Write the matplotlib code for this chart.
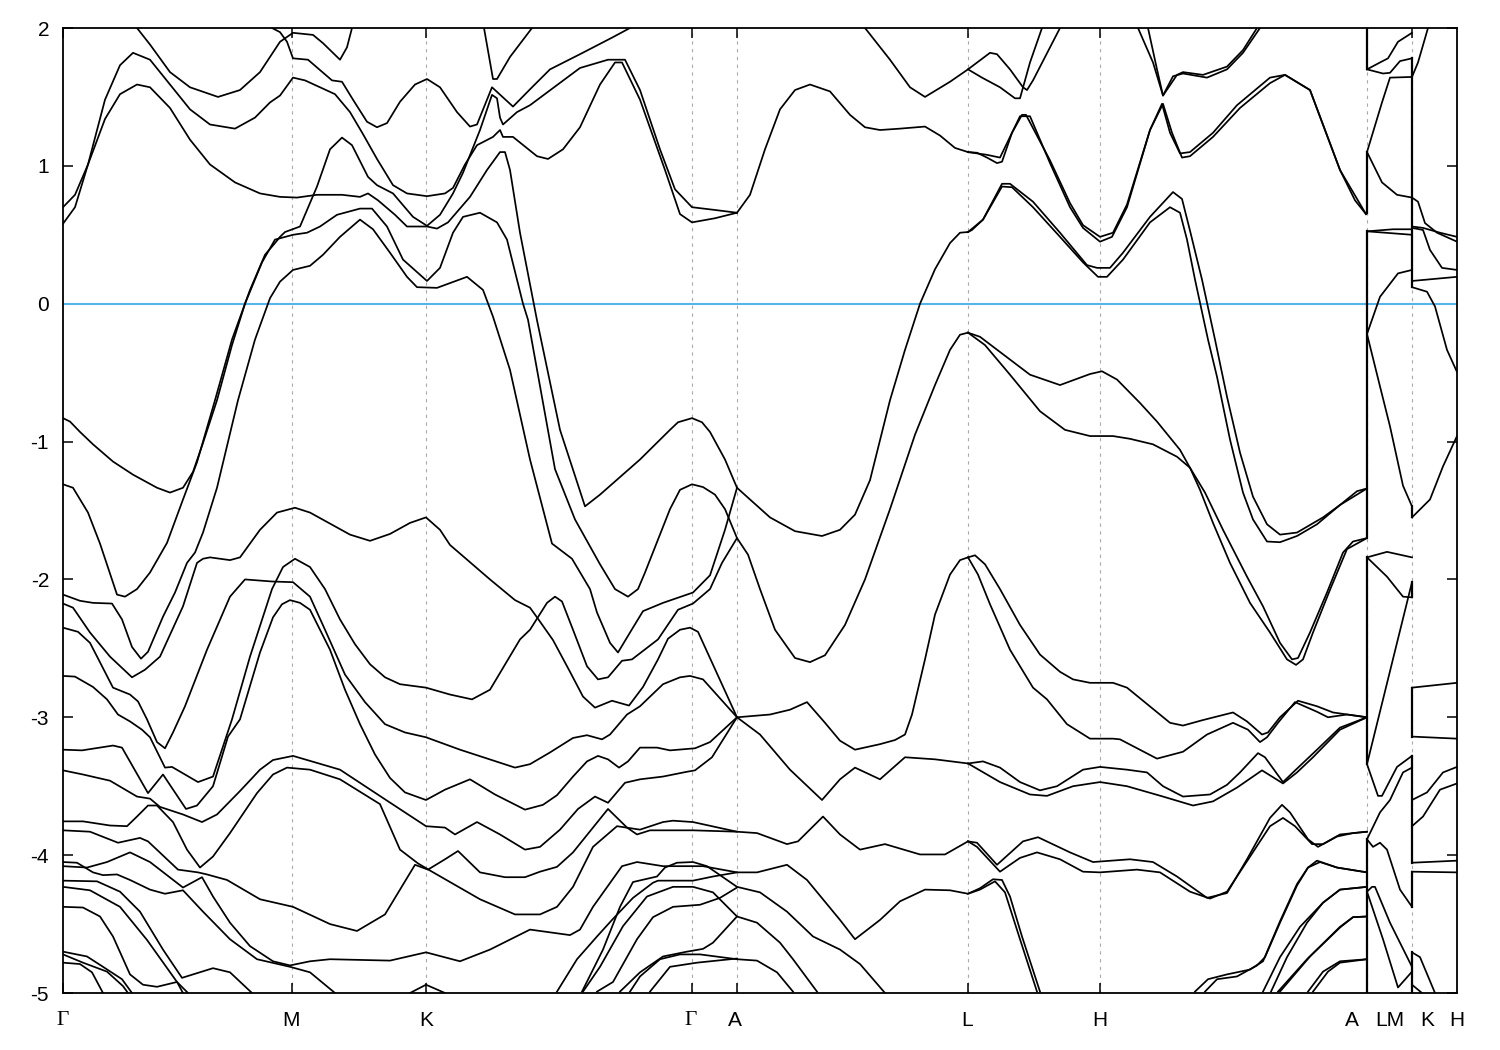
import matplotlib
matplotlib.use('Agg')
import matplotlib.pyplot as plt

plt.rcParams['font.family'] = ['Liberation Sans', 'DejaVu Sans']

#high symmetry points, path distance in arbitrary units
tick_pos = [0, 2.29, 3.63, 6.29, 6.74, 9.05, 10.37, 13.04, 13.49]
label_names = ['Γ', 'M', 'K', 'Γ', 'A', 'L', 'H', 'A', 'LM', 'K', 'H']
label_pos = [0, 2.28, 3.63, 6.28, 6.72, 9.04, 10.37, 12.89, 13.27, 13.64, 13.94]
energy_ticks = [2, 1, 0, -1, -2, -3, -4, -5]

#bands as (k, energy) pairs
#Gamma - M - K - Gamma - A
band_01 = [(0,.70),(.12,.79),(.25,1.01),(.42,1.48),(.57,1.73),(.70,1.82),(.87,1.77),(1.07,1.59),(1.27,1.41),(1.47,1.30),(1.72,1.27),(1.92,1.35),(2.07,1.46),(2.17,1.51),(2.30,1.64),(2.42,1.62),(2.72,1.52),(2.87,1.39),(3.00,1.23),(3.14,1.05),(3.30,.86),(3.44,.80),(3.64,.78),(3.82,.80),(3.90,.84),(4.02,1.01),(4.14,1.15),(4.30,1.21),(4.37,1.26),(4.40,1.21),(4.50,1.21),(4.74,1.07),(4.85,1.05),(5.00,1.12),(5.17,1.28),(5.37,1.59),(5.52,1.75),(5.59,1.75),(5.77,1.48),(6.02,.97),(6.17,.65),(6.29,.59),(6.52,.62),(6.74,.66)]
band_02 = [(0,.58),(.12,.70),(.25,1.01),(.42,1.34),(.57,1.52),(.74,1.59),(.87,1.57),(1.07,1.42),(1.27,1.19),(1.47,1.01),(1.72,.88),(1.97,.80),(2.17,.775),(2.34,.77),(2.54,.79),(2.79,.79),(2.97,.775),(3.05,.80),(3.15,.75),(3.32,.645),(3.44,.56),(3.64,.56),(3.74,.545),(3.85,.59),(4.07,.775),(4.24,.97),(4.37,1.10),(4.42,1.10),(4.47,.97),(4.57,.515),(4.74,-.12),(4.97,-.915),(5.22,-1.47),(5.37,-1.385),(5.77,-1.13),(6.07,-.915),(6.15,-.86),(6.29,-.83),(6.39,-.86),(6.47,-.93),(6.62,-1.13),(6.74,-1.335)]
band_03 = [(.74,2.0),(.87,1.88),(1.07,1.68),(1.27,1.57),(1.55,1.50),(1.77,1.55),(1.97,1.68),(2.17,1.90),(2.30,1.965),(2.50,1.95),(2.60,1.89),(2.77,1.77),(2.84,1.86),(2.89,2.0)]
band_04 = [(2.09,2.0),(2.17,1.97),(2.24,1.90),(2.30,1.78),(2.45,1.77),(2.69,1.62),(2.79,1.61),(2.90,1.48),(3.04,1.32),(3.14,1.28),(3.24,1.31),(3.37,1.465),(3.52,1.59),(3.64,1.63),(3.77,1.57),(3.94,1.39),(4.07,1.285),(4.14,1.30),(4.29,1.57),(4.50,1.43),(4.69,1.57),(4.87,1.70),(5.17,1.81),(5.49,1.93),(5.67,2.0)]
band_05 = [(4.21,2.0),(4.30,1.63),(4.34,1.63),(4.47,1.79),(4.69,2.0)]
band_06 = [(0,-.83),(.07,-.855),(.17,-.93),(.30,-1.02),(.50,-1.145),(.70,-1.24),(.94,-1.335),(1.07,-1.37),(1.20,-1.335),(1.30,-1.22),(1.40,-1.01),(1.54,-.70),(1.69,-.30),(1.82,0),(1.99,.30),(2.12,.465),(2.30,.50),(2.44,.515),(2.57,.56),(2.74,.645),(2.97,.69),(3.09,.69),(3.24,.56),(3.40,.32),(3.64,.165),(3.77,.26),(3.90,.515),(4.00,.63),(4.17,.66),(4.34,.59),(4.44,.465),(4.60,0),(4.65,-.116),(4.92,-1.20),(5.12,-1.565),(5.37,-1.89),(5.52,-2.07),(5.65,-2.125),(5.75,-2.07),(5.82,-1.95),(6.07,-1.49),(6.17,-1.35),(6.29,-1.31),(6.40,-1.33),(6.52,-1.385),(6.62,-1.49),(6.74,-1.70)]
band_07 = [(0,-1.31),(.10,-1.335),(.25,-1.515),(.37,-1.74),(.54,-2.11),(.62,-2.125),(.74,-2.07),(.87,-1.95),(1.04,-1.735),(1.20,-1.42),(1.34,-1.15),(1.52,-.70),(1.69,-.26),(1.87,.10),(2.02,.355),(2.12,.44),(2.17,.485),(2.22,.52),(2.37,.56),(2.54,.85),(2.67,1.12),(2.79,1.205),(2.89,1.15),(3.05,.92),(3.14,.86),(3.30,.80),(3.50,.63),(3.64,.565),(3.77,.645),(3.90,.80),(4.00,.95),(4.17,1.26),(4.29,1.515),(4.34,1.49),(4.37,1.35),(4.40,1.30),(4.54,1.39),(4.67,1.44),(5.17,1.71),(5.45,1.77),(5.62,1.77),(5.77,1.55),(5.97,1.12),(6.12,.83),(6.29,.70),(6.52,.68),(6.74,.66)]
band_08 = [(0,-2.11),(.17,-2.155),(.30,-2.17),(.49,-2.175),(.59,-2.29),(.69,-2.49),(.78,-2.575),(.85,-2.525),(1.00,-2.27),(1.12,-2.095),(1.24,-1.88),(1.32,-1.805),(1.40,-1.66),(1.54,-1.335),(1.75,-.70),(1.92,-.26),(2.07,.04),(2.17,.16),(2.30,.245),(2.47,.275),(2.60,.355),(2.77,.485),(2.97,.61),(3.10,.54),(3.27,.37),(3.44,.195),(3.54,.12),(3.74,.115),(4.04,.195),(4.20,.10),(4.30,-.094),(4.47,-.48),(4.67,-1.13),(4.89,-1.74),(5.09,-1.85),(5.27,-2.07),(5.34,-2.24),(5.47,-2.46),(5.55,-2.53),(5.67,-2.385),(5.80,-2.23),(6.00,-2.17),(6.30,-2.095),(6.47,-1.97),(6.62,-1.64),(6.74,-1.335)]
band_09 = [(0,-2.175),(.10,-2.205),(.27,-2.385),(.47,-2.56),(.69,-2.71),(.82,-2.655),(.97,-2.56),(1.20,-2.195),(1.34,-1.88),(1.40,-1.85),(1.47,-1.84),(1.67,-1.86),(1.77,-1.84),(1.97,-1.64),(2.14,-1.515),(2.32,-1.48),(2.47,-1.515),(2.87,-1.675),(3.07,-1.72),(3.27,-1.67),(3.47,-1.59),(3.63,-1.55),(3.77,-1.64),(3.87,-1.75),(4.27,-2.00),(4.52,-2.15),(4.67,-2.205),(4.74,-2.275),(4.90,-2.44),(5.07,-2.67),(5.20,-2.85),(5.32,-2.93),(5.49,-2.88),(5.66,-2.915),(5.80,-2.78),(5.95,-2.58),(6.05,-2.43),(6.17,-2.365),(6.27,-2.35),(6.35,-2.38),(6.74,-3.0),(7.07,-2.98),(7.27,-2.945),(7.44,-2.89),(7.62,-3.04),(7.77,-3.17),(7.92,-3.235),(8.17,-3.195),(8.32,-3.165),(8.42,-3.125),(8.49,-2.98),(8.62,-2.58),(8.72,-2.255),(8.87,-1.965),(8.97,-1.86),(9.05,-1.84)]
band_10 = [(0,-2.35),(.15,-2.38),(.27,-2.46),(.50,-2.785),(.67,-2.835),(.75,-2.885),(.84,-3.015),(.94,-3.18),(1.02,-3.225),(1.10,-3.11),(1.22,-2.92),(1.44,-2.51),(1.67,-2.125),(1.82,-2.00),(2.09,-2.015),(2.30,-2.02),(2.47,-2.125),(2.62,-2.365),(2.82,-2.69),(3.02,-2.89),(3.22,-3.05),(3.42,-3.11),(3.63,-3.145),(3.97,-3.235),(4.52,-3.365),(4.67,-3.34),(4.87,-3.255),(5.10,-3.15),(5.24,-3.13),(5.39,-3.16),(5.47,-3.125),(5.64,-2.98),(5.77,-2.92),(6.00,-2.76),(6.17,-2.71),(6.27,-2.70),(6.40,-2.725),(6.74,-3.0),(6.97,-3.125),(7.27,-3.38),(7.59,-3.60),(7.77,-3.45),(7.92,-3.365),(8.17,-3.45),(8.42,-3.29),(8.72,-3.305),(9.05,-3.335)]
band_11 = [(0,-2.70),(.12,-2.705),(.30,-2.78),(.44,-2.87),(.55,-2.98),(.67,-3.03),(.79,-3.09),(.87,-3.145),(1.02,-3.365),(1.09,-3.36),(1.35,-3.47),(1.50,-3.43),(1.69,-3.015),(1.87,-2.56),(2.09,-2.07),(2.20,-1.91),(2.32,-1.85),(2.47,-1.91),(2.62,-2.07),(2.77,-2.29),(2.92,-2.47),(3.07,-2.615),(3.22,-2.71),(3.37,-2.76),(3.63,-2.785),(3.87,-2.835),(4.09,-2.87),(4.27,-2.80),(4.57,-2.435),(4.67,-2.365),(4.84,-2.17),(4.92,-2.125),(4.99,-2.16),(5.10,-2.365),(5.24,-2.63),(5.35,-2.725),(5.45,-2.71),(5.59,-2.59),(5.69,-2.58),(5.95,-2.435),(6.15,-2.22),(6.30,-2.175),(6.47,-2.07),(6.59,-1.88),(6.74,-1.70),(6.85,-1.82),(6.97,-2.07),(7.12,-2.365),(7.32,-2.57),(7.47,-2.60),(7.62,-2.55),(7.82,-2.33),(8.02,-2.00),(8.27,-1.49),(8.52,-.95),(8.72,-.59),(8.87,-.335),(8.97,-.225),(9.05,-.21)]
band_12 = [(0,-3.235),(.19,-3.24),(.50,-3.205),(.59,-3.22),(.85,-3.55),(1.00,-3.415),(1.23,-3.665),(1.34,-3.64),(1.50,-3.50),(1.65,-3.14),(1.77,-3.015),(1.97,-2.53),(2.10,-2.275),(2.19,-2.18),(2.27,-2.15),(2.37,-2.17),(2.47,-2.22),(2.67,-2.51),(2.82,-2.80),(2.97,-3.05),(3.12,-3.27),(3.27,-3.44),(3.42,-3.545),(3.63,-3.60),(3.82,-3.525),(4.07,-3.45),(4.32,-3.56),(4.62,-3.67),(4.80,-3.635),(4.94,-3.565),(5.10,-3.43),(5.24,-3.32),(5.35,-3.28),(5.45,-3.305),(5.56,-3.365),(5.65,-3.32),(5.77,-3.22),(5.94,-3.22),(6.07,-3.24),(6.32,-3.225),(6.47,-3.18),(6.74,-3.0)]
band_13 = [(0,-3.385),(.20,-3.415),(.47,-3.46),(.74,-3.575),(.87,-3.59),(.97,-3.65),(1.20,-3.705),(1.39,-3.76),(1.54,-3.705),(1.77,-3.535),(1.97,-3.38),(2.10,-3.31),(2.30,-3.28),(2.77,-3.38),(3.22,-3.595),(3.63,-3.79),(3.82,-3.80),(3.92,-3.85),(4.14,-3.76),(4.37,-3.85),(4.62,-3.96),(4.77,-3.94),(4.97,-3.815),(5.15,-3.665),(5.32,-3.575),(5.45,-3.62),(5.62,-3.475),(5.77,-3.45),(6.00,-3.43),(6.24,-3.395),(6.32,-3.385),(6.49,-3.29),(6.74,-3.0)]
band_14 = [(0,-3.755),(.20,-3.755),(.47,-3.785),(.64,-3.79),(.74,-3.72),(.85,-3.64),(.94,-3.64),(1.10,-3.76),(1.24,-3.96),(1.37,-4.09),(1.50,-4.01),(1.67,-3.84),(1.94,-3.55),(2.10,-3.415),(2.24,-3.365),(2.47,-3.38),(2.77,-3.45),(3.17,-3.63),(3.37,-3.96),(3.55,-4.06),(3.69,-4.12),(4.17,-4.32),(4.52,-4.43),(4.77,-4.43),(4.94,-4.375),(5.10,-4.23),(5.30,-3.94),(5.54,-3.79),(5.77,-3.815),(6.00,-3.76),(6.10,-3.75),(6.30,-3.76),(6.74,-3.83),(6.94,-3.84),(7.24,-3.92),(7.35,-3.90),(7.60,-3.72),(7.77,-3.85),(7.97,-3.96),(8.22,-3.92),(8.57,-3.995),(8.82,-3.995),(9.05,-3.90)]
band_15 = [(0,-3.82),(.27,-3.83),(.55,-3.91),(.77,-3.875),(.85,-3.90),(1.15,-4.105),(1.35,-4.125),(1.44,-4.14),(1.64,-4.18),(1.97,-4.32),(2.30,-4.375),(2.67,-4.50),(2.94,-4.55),(3.22,-4.43),(3.37,-4.25),(3.52,-4.07),(3.65,-4.105),(3.82,-4.03),(3.95,-3.97),(4.17,-4.125),(4.42,-4.16),(4.62,-4.16),(4.77,-4.12),(4.94,-4.085),(5.10,-3.98),(5.45,-3.665),(5.64,-3.80),(5.74,-3.85),(5.87,-3.82),(6.10,-3.82),(6.30,-3.82),(6.74,-3.83)]
band_16 = [(0,-4.05),(.14,-4.055),(.30,-4.125),(.40,-4.145),(.54,-4.14),(.67,-4.18),(.87,-4.25),(1.02,-4.28),(1.20,-4.255),(1.40,-4.41),(1.67,-4.61),(1.94,-4.755),(2.27,-4.81),(2.47,-4.85),(2.72,-5.0)]
band_17 = [(0,-4.08),(.24,-4.09),(.44,-4.05),(.67,-3.98),(.87,-4.05),(1.20,-4.235),(1.39,-4.16),(1.50,-4.30),(1.67,-4.49),(1.87,-4.66),(2.10,-4.77),(2.27,-4.80),(2.47,-4.77),(2.67,-4.755),(3.27,-4.765),(3.63,-4.705),(3.97,-4.77),(4.27,-4.685),(4.67,-4.54),(5.07,-4.58),(5.17,-4.54),(5.30,-4.375),(5.59,-4.08),(5.74,-4.05),(6.00,-4.08),(6.17,-4.08),(6.40,-4.08),(6.74,-4.125),(6.94,-4.125),(7.24,-4.07),(7.44,-4.18),(7.77,-4.47),(7.92,-4.61),(8.17,-4.47),(8.37,-4.335),(8.62,-4.25),(8.87,-4.255),(9.05,-4.28),(9.17,-4.24),(9.30,-4.175),(9.39,-4.18),(9.47,-4.30),(9.59,-4.59),(9.77,-4.99)]
band_18 = [(0,-4.185),(.34,-4.19),(.57,-4.265),(.77,-4.41),(1.00,-4.685),(1.19,-4.89),(1.50,-4.82),(1.67,-4.85),(1.89,-5.0)]
band_19 = [(0,-4.23),(.27,-4.255),(.57,-4.375),(.84,-4.615),(1.14,-4.92),(1.20,-5.0)]
band_20 = [(0,-4.375),(.20,-4.38),(.37,-4.445),(.50,-4.59),(.67,-4.865),(.80,-4.94),(.94,-4.955),(1.14,-4.92),(1.25,-5.0)]
band_21 = [(0,-4.70),(.24,-4.735),(.40,-4.81),(.59,-4.90),(.69,-5.0)]
band_22 = [(0,-4.72),(.20,-4.78),(.44,-4.845),(.60,-4.95),(.65,-5.0)]
band_23 = [(0,-4.78),(.17,-4.79),(.29,-4.85),(.40,-5.0)]
band_24 = [(3.47,-5.0),(3.63,-4.94),(3.82,-5.0)]
band_25 = [(4.94,-4.99),(5.14,-4.755),(5.34,-4.59),(5.49,-4.47),(5.70,-4.31),(5.90,-4.20),(5.95,-4.185),(6.30,-4.185),(6.50,-4.155),(6.74,-4.125)]
band_26 = [(5.19,-4.99),(5.40,-4.685),(5.57,-4.375),(5.70,-4.195),(5.94,-4.155),(6.02,-4.09),(6.14,-4.055),(6.30,-4.05),(6.44,-4.08),(6.74,-4.23),(6.97,-4.27),(7.24,-4.41),(7.50,-4.59),(7.77,-4.685),(7.97,-4.79),(8.22,-5.0)]
band_27 = [(5.20,-4.99),(5.37,-4.81),(5.60,-4.515),(5.84,-4.30),(6.10,-4.23),(6.30,-4.23),(6.50,-4.27),(6.74,-4.445),(6.94,-4.49),(7.17,-4.635),(7.30,-4.755),(7.54,-4.99)]
band_28 = [(5.34,-4.99),(5.50,-4.92),(5.74,-4.61),(5.90,-4.45),(6.10,-4.375),(6.37,-4.36),(6.57,-4.31),(6.74,-4.235)]
band_29 = [(5.57,-4.99),(5.77,-4.85),(6.00,-4.735),(6.24,-4.70),(6.40,-4.68),(6.50,-4.635),(6.74,-4.445)]
band_30 = [(5.67,-4.99),(5.77,-4.88),(5.97,-4.755),(6.17,-4.72),(6.37,-4.72),(6.74,-4.755),(6.94,-4.765),(7.14,-4.85),(7.30,-4.99)]
band_31 = [(5.87,-4.99),(6.07,-4.81),(6.34,-4.78),(6.74,-4.75)]
band_32 = [(6.74,.66),(6.87,.79),(7.02,1.12),(7.17,1.41),(7.32,1.55),(7.47,1.59),(7.67,1.54),(7.87,1.37),(8.02,1.28),(8.17,1.26),(8.37,1.27),(8.62,1.285),(8.77,1.22),(8.92,1.13),(9.05,1.10)]
band_33 = [(6.74,-1.335),(6.87,-1.42),(7.07,-1.55),(7.32,-1.65),(7.59,-1.685),(7.77,-1.64),(7.92,-1.53),(8.07,-1.28),(8.27,-.70),(8.42,-.335),(8.57,0),(8.72,.25),(8.87,.44),(8.97,.515),(9.05,.52)]

#L - H - A
band_34 = [(8.02,2.0),(8.27,1.77),(8.47,1.57),(8.62,1.50),(8.87,1.61),(9.05,1.70),(9.27,1.82),(9.34,1.81),(9.47,1.70),(9.60,1.57),(9.64,1.55),(9.70,1.62),(9.97,2.0)]
band_35 = [(9.05,1.70),(9.19,1.64),(9.37,1.57),(9.52,1.49),(9.57,1.49),(9.67,1.75),(9.79,2.0)]
band_36 = [(9.05,1.10),(9.14,1.095),(9.24,1.06),(9.34,1.02),(9.39,1.03),(9.49,1.24),(9.57,1.36),(9.67,1.36),(9.87,1.02),(10.07,.70),(10.20,.55),(10.37,.45),(10.49,.485),(10.64,.70),(10.87,1.26),(11.00,1.45),(11.09,1.24),(11.19,1.06),(11.27,1.07),(11.50,1.21),(11.77,1.42),(12.07,1.60),(12.22,1.66),(12.47,1.55),(12.77,.97),(12.92,.75),(13.03,.65)]
band_37 = [(9.05,1.10),(9.24,1.08),(9.37,1.06),(9.49,1.24),(9.59,1.37),(9.63,1.37),(9.87,1.04),(10.07,.73),(10.20,.57),(10.37,.485),(10.50,.515),(10.64,.72),(10.87,1.26),(10.99,1.45),(11.07,1.24),(11.17,1.09),(11.27,1.10),(11.50,1.24),(11.74,1.44),(12.07,1.64),(12.22,1.66),(12.47,1.55),(12.77,.97),(13.03,.65)]
band_38 = [(9.05,.52),(9.09,.535),(9.20,.61),(9.39,.85),(9.49,.845),(9.70,.70),(9.97,.485),(10.20,.30),(10.35,.195),(10.44,.195),(10.60,.32),(10.87,.59),(11.07,.70),(11.17,.66),(11.24,.465),(11.32,.175),(11.45,-.26),(11.54,-.53),(11.67,-.985),(11.80,-1.37),(11.90,-1.565),(12.04,-1.725),(12.17,-1.73),(12.34,-1.685),(12.54,-1.60),(12.77,-1.46),(12.94,-1.36),(13.04,-1.34)]
band_39 = [(9.05,.52),(9.20,.61),(9.39,.87),(9.47,.87),(9.70,.74),(9.97,.515),(10.24,.28),(10.34,.26),(10.47,.26),(10.60,.37),(10.87,.63),(11.10,.81),(11.19,.76),(11.27,.53),(11.39,.175),(11.52,-.26),(11.64,-.675),(11.77,-1.08),(11.90,-1.40),(12.04,-1.60),(12.17,-1.675),(12.34,-1.66),(12.60,-1.55),(12.77,-1.46),(13.04,-1.34)]
band_40 = [(9.05,-.21),(9.17,-.24),(9.37,-.35),(9.67,-.515),(9.97,-.59),(10.27,-.51),(10.39,-.49),(10.54,-.55),(10.77,-.72),(10.94,-.855),(11.17,-1.06),(11.27,-1.19),(11.42,-1.37),(11.60,-1.64),(11.84,-1.98),(12.00,-2.195),(12.17,-2.46),(12.29,-2.58),(12.35,-2.57),(12.47,-2.385),(12.64,-2.095),(12.80,-1.805),(12.90,-1.725),(13.04,-1.70)]
band_41 = [(9.05,-.21),(9.22,-.30),(9.47,-.515),(9.77,-.78),(10.02,-.915),(10.27,-.96),(10.50,-.96),(10.67,-.98),(10.90,-1.02),(11.14,-1.11),(11.27,-1.19),(11.37,-1.35),(11.50,-1.59),(11.67,-1.88),(11.87,-2.17),(12.07,-2.385),(12.24,-2.58),(12.33,-2.62),(12.40,-2.58),(12.50,-2.385),(12.67,-2.075),(12.84,-1.78),(13.04,-1.70)]
band_42 = [(9.05,-1.84),(9.12,-1.825),(9.22,-1.89),(9.37,-2.07),(9.57,-2.33),(9.77,-2.545),(9.97,-2.67),(10.10,-2.725),(10.27,-2.75),(10.50,-2.75),(10.64,-2.785),(11.07,-3.04),(11.20,-3.06),(11.40,-3.02),(11.70,-2.965),(11.84,-3.03),(11.99,-3.125),(12.05,-3.11),(12.17,-3.00),(12.35,-2.88),(12.54,-2.92),(12.70,-2.965),(13.04,-3.0)]
band_43 = [(9.05,-1.84),(9.15,-1.965),(9.27,-2.18),(9.47,-2.51),(9.70,-2.785),(9.84,-2.87),(10.04,-3.05),(10.27,-3.155),(10.50,-3.155),(10.57,-3.16),(10.94,-3.30),(11.20,-3.25),(11.44,-3.125),(11.70,-3.04),(11.85,-3.09),(11.97,-3.18),(12.04,-3.145),(12.15,-3.04),(12.32,-2.89),(12.54,-2.96),(12.65,-3.0),(12.84,-2.98),(13.04,-3.0)]
band_44 = [(9.05,-3.335),(9.20,-3.32),(9.37,-3.365),(9.57,-3.47),(9.77,-3.53),(9.94,-3.50),(10.20,-3.38),(10.37,-3.36),(10.64,-3.38),(10.84,-3.40),(11.00,-3.50),(11.20,-3.575),(11.47,-3.56),(11.64,-3.49),(11.77,-3.40),(11.95,-3.26),(12.02,-3.29),(12.20,-3.47),(12.30,-3.40),(12.54,-3.235),(12.77,-3.075),(13.04,-3.0)]
band_45 = [(9.05,-3.335),(9.37,-3.47),(9.67,-3.56),(9.84,-3.57),(10.10,-3.50),(10.37,-3.47),(10.64,-3.50),(11.00,-3.575),(11.30,-3.64),(11.50,-3.61),(11.74,-3.51),(11.99,-3.385),(12.20,-3.48),(12.34,-3.40),(12.50,-3.29),(12.77,-3.09),(13.04,-3.0)]
band_46 = [(9.05,-3.90),(9.14,-3.91),(9.34,-4.07),(9.60,-3.90),(9.75,-3.87),(10.07,-3.98),(10.30,-4.05),(10.67,-4.03),(10.90,-4.05),(11.14,-4.155),(11.44,-4.31),(11.64,-4.275),(11.84,-4.03),(12.07,-3.73),(12.19,-3.635),(12.27,-3.69),(12.45,-3.885),(12.55,-3.94),(12.74,-3.865),(12.90,-3.84),(13.04,-3.83)]
band_47 = [(9.05,-3.90),(9.14,-3.94),(9.37,-4.12),(9.57,-4.02),(9.74,-3.98),(9.97,-4.03),(10.20,-4.12),(10.37,-4.125),(10.74,-4.105),(10.97,-4.125),(11.27,-4.265),(11.47,-4.315),(11.64,-4.265),(12.07,-3.79),(12.20,-3.73),(12.32,-3.79),(12.49,-3.92),(12.60,-3.92),(12.77,-3.85),(13.04,-3.83)]
band_48 = [(9.05,-4.28),(9.17,-4.25),(9.32,-4.19),(9.42,-4.27),(9.57,-4.61),(9.74,-4.99)]
band_49 = [(11.32,-4.99),(11.45,-4.90),(11.64,-4.865),(11.87,-4.83),(12.00,-4.77),(12.17,-4.48),(12.34,-4.21),(12.45,-4.09),(12.54,-4.04),(12.74,-4.09),(13.04,-4.125)]
band_50 = [(11.42,-4.99),(11.54,-4.90),(11.74,-4.88),(11.94,-4.80),(12.02,-4.74),(12.17,-4.49),(12.34,-4.22),(12.45,-4.09),(12.57,-4.05),(12.74,-4.09),(13.04,-4.125)]
band_51 = [(12.00,-4.99),(12.17,-4.74),(12.37,-4.52),(12.60,-4.345),(12.77,-4.25),(13.04,-4.23)]
band_52 = [(12.08,-4.99),(12.24,-4.74),(12.44,-4.49),(12.60,-4.345),(12.77,-4.25),(13.04,-4.23)]
band_53 = [(12.15,-4.99),(12.44,-4.755),(12.77,-4.52),(12.90,-4.45),(13.04,-4.445)]
band_54 = [(12.17,-4.99),(12.47,-4.735),(12.77,-4.525),(12.90,-4.45),(13.04,-4.445)]
band_55 = [(12.45,-4.99),(12.60,-4.845),(12.77,-4.77),(13.04,-4.755)]
band_56 = [(12.50,-4.99),(12.65,-4.845),(12.77,-4.78),(13.04,-4.755)]
band_57 = [(10.75,2.0),(10.90,1.75),(11.00,1.51),(11.10,1.65),(11.20,1.67),(11.44,1.64),(11.64,1.70),(11.80,1.82),(11.97,2.0)]
band_58 = [(10.85,2.0),(10.94,1.70),(11.00,1.51),(11.14,1.66),(11.20,1.68),(11.40,1.66),(11.64,1.72),(11.80,1.84),(11.94,2.0)]

#L - M
band_59 = [(13.04,1.70),(13.17,1.75),(13.25,1.78),(13.35,1.90),(13.49,1.965)]
band_60 = [(13.04,1.70),(13.20,1.67),(13.27,1.675),(13.37,1.76),(13.49,1.78)]
band_61 = [(13.04,1.10),(13.19,1.46),(13.27,1.64),(13.49,1.645)]
band_62 = [(13.04,1.10),(13.19,.88),(13.34,.79),(13.49,.77)]
band_63 = [(13.04,.525),(13.30,.54),(13.49,.54)]
band_64 = [(13.04,.525),(13.49,.50)]
band_65 = [(13.04,-.22),(13.17,.05),(13.35,.22),(13.49,.245)]
band_66 = [(13.04,-.22),(13.17,-.60),(13.27,-.89),(13.40,-1.32),(13.49,-1.47)]
band_67 = [(13.04,-1.84),(13.24,-1.80),(13.49,-1.84)]
band_68 = [(13.04,-1.84),(13.24,-1.98),(13.40,-2.125),(13.49,-2.13)]
band_69 = [(13.04,-3.34),(13.49,-2.02)]
band_70 = [(13.04,-3.34),(13.15,-3.57),(13.19,-3.57),(13.34,-3.36),(13.49,-3.28)]
band_71 = [(13.04,-3.885),(13.17,-3.69),(13.27,-3.60),(13.40,-3.40),(13.49,-3.365)]
band_72 = [(13.04,-3.885),(13.10,-3.94),(13.17,-3.91),(13.24,-3.96),(13.37,-4.25),(13.49,-4.375)]
band_73 = [(13.04,-4.265),(13.09,-4.23),(13.12,-4.23),(13.27,-4.49),(13.49,-4.81)]
band_74 = [(13.04,-4.265),(13.20,-4.61),(13.35,-4.96),(13.49,-4.845)]

#K - H
band_75 = [(13.49,1.645),(13.55,1.75),(13.65,2.0)]
band_76 = [(13.49,.77),(13.55,.74),(13.62,.585),(13.74,.515),(13.94,.45)]
band_77 = [(13.49,.56),(13.60,.55),(13.77,.515),(13.94,.485)]
band_78 = [(13.49,.55),(13.60,.535),(13.67,.39),(13.79,.26),(13.94,.245)]
band_79 = [(13.49,.165),(13.94,.195)]
band_80 = [(13.49,.12),(13.64,.087),(13.72,-.02),(13.84,-.335),(13.94,-.495)]
band_81 = [(13.49,-1.55),(13.67,-1.42),(13.80,-1.18),(13.94,-.96)]
band_82 = [(13.49,-2.785),(13.94,-2.75)]
band_83 = [(13.49,-3.14),(13.94,-3.155)]
band_84 = [(13.49,-3.60),(13.64,-3.545),(13.80,-3.40),(13.94,-3.36)]
band_85 = [(13.49,-3.79),(13.60,-3.72),(13.77,-3.525),(13.94,-3.48)]
band_86 = [(13.49,-4.055),(13.94,-4.04)]
band_87 = [(13.49,-4.12),(13.94,-4.125)]
band_88 = [(13.49,-4.705),(13.57,-4.74),(13.72,-5.0)]
band_89 = [(13.49,-4.94),(13.59,-5.0)]

all_bands = [band_01, band_02, band_03, band_04, band_05, band_06, band_07, band_08, band_09, band_10,
             band_11, band_12, band_13, band_14, band_15, band_16, band_17, band_18, band_19, band_20,
             band_21, band_22, band_23, band_24, band_25, band_26, band_27, band_28, band_29, band_30,
             band_31, band_32, band_33, band_34, band_35, band_36, band_37, band_38, band_39, band_40,
             band_41, band_42, band_43, band_44, band_45, band_46, band_47, band_48, band_49, band_50,
             band_51, band_52, band_53, band_54, band_55, band_56, band_57, band_58, band_59, band_60,
             band_61, band_62, band_63, band_64, band_65, band_66, band_67, band_68, band_69, band_70,
             band_71, band_72, band_73, band_74, band_75, band_76, band_77, band_78, band_79, band_80,
             band_81, band_82, band_83, band_84, band_85, band_86, band_87, band_88, band_89]

#jumps where the path is broken, energy ranges of the vertical pieces
jumps_al = [(1.70, 2.0), (.66, 1.10), (-1.69, .525), (-3.34, -1.84), (-5, -3.885)]
jumps_mk = [(.12, 1.78), (-1.55, -1.47), (-2.13, -2.02), (-3.14, -2.785), (-4.055, -3.28), (-4.375, -4.12), (-5, -4.705)]

fig = plt.figure(figsize=(15, 10.5), dpi=100)
ax = fig.add_axes([63 / 1500, 1 - 993 / 1050, 1394 / 1500, 965 / 1050])

for k in tick_pos[1:]:
    ax.axvline(k, color='#aaaaaa', lw=0.8, dashes=(3, 4), zorder=1)

ax.axhline(0, color='#56b4e9', lw=1.5, zorder=2)

for band in all_bands:
    ax.plot([p[0] for p in band], [p[1] for p in band], color='black', lw=1.25, zorder=3)

for lo, hi in jumps_al:
    ax.plot([tick_pos[7], tick_pos[7]], [lo, hi], color='black', lw=1.6, zorder=3)
for lo, hi in jumps_mk:
    ax.plot([tick_pos[8], tick_pos[8]], [lo, hi], color='black', lw=1.6, zorder=3)

ax.set_xlim(0, 13.94)
ax.set_ylim(-5, 2)
ax.set_xticks(tick_pos)
ax.set_xticklabels([])
ax.set_yticks(energy_ticks)
ax.set_yticklabels([str(e) for e in energy_ticks], fontsize=15)
ax.tick_params(axis='both', direction='in', length=7, width=1.1, top=True, right=True)
ax.tick_params(axis='y', pad=10)
for spine in ax.spines.values():
    spine.set_linewidth(1.3)

for name, k in zip(label_names, label_pos):
    if name == 'Γ':
        ax.text(k, -0.029, name, transform=ax.get_xaxis_transform(), ha='center', va='center', fontsize=15.5, family='Liberation Serif')
    else:
        ax.text(k, -0.028, name, transform=ax.get_xaxis_transform(), ha='center', va='center', fontsize=15)

plt.savefig('out.png', dpi=100)
